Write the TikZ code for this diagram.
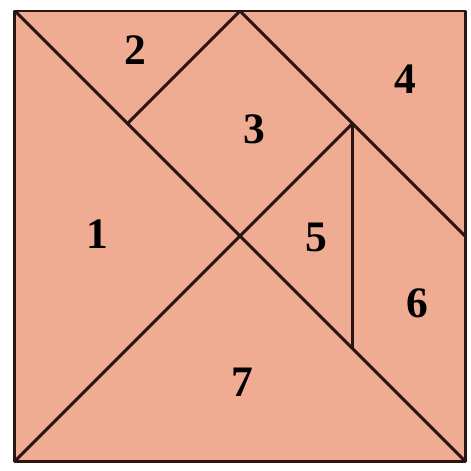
\documentclass[tikz,border=0pt]{standalone}
\usepackage{fontspec}
\setmainfont{Liberation Serif}
\usepackage{xcolor}
\usepackage{tikz}
\usetikzlibrary{calc}
\definecolor{peach}{HTML}{EFAC92}
\definecolor{ink}{HTML}{2A1512}

\begin{document}
\begin{tikzpicture}[x=2cm,y=2cm,font=\fontsize{22}{26}\selectfont\bfseries,
    cut/.style={ink,line width=1.5pt,line join=round}]
        \useasboundingbox (-0.133,-0.08) rectangle (4.053,4.098);
        \coordinate (bl) at (0,0); \coordinate (br) at (4,0);
        \coordinate (tl) at (0,4); \coordinate (tr) at (4,4);
        \coordinate (tm) at (2,4); \coordinate (rm) at (4,2);
        \coordinate (p) at (1,3); \coordinate (q) at (3,3); \coordinate (r) at (3,1);
        \fill[peach] (bl) rectangle (tr);
        \draw[cut] (bl) rectangle (tr);
        \draw[cut] (tl) -- (br);
        \draw[cut] (bl) -- (q);
        \draw[cut] (p) -- (tm) -- (rm);
        \draw[cut] (q) -- (r);
        \node (n1) at (0.73,2.02) {1};
        \node (n2) at (1.07,3.65) {2};
        \node (n3) at (2.13,2.95) {3};
        \node (n4) at (3.47,3.39) {4};
        \node (n5) at (2.68,1.99) {5};
        \node (n6) at (3.58,1.40) {6};
        \node (n7) at (2.02,0.70) {7};
      \end{tikzpicture}
\end{document}
